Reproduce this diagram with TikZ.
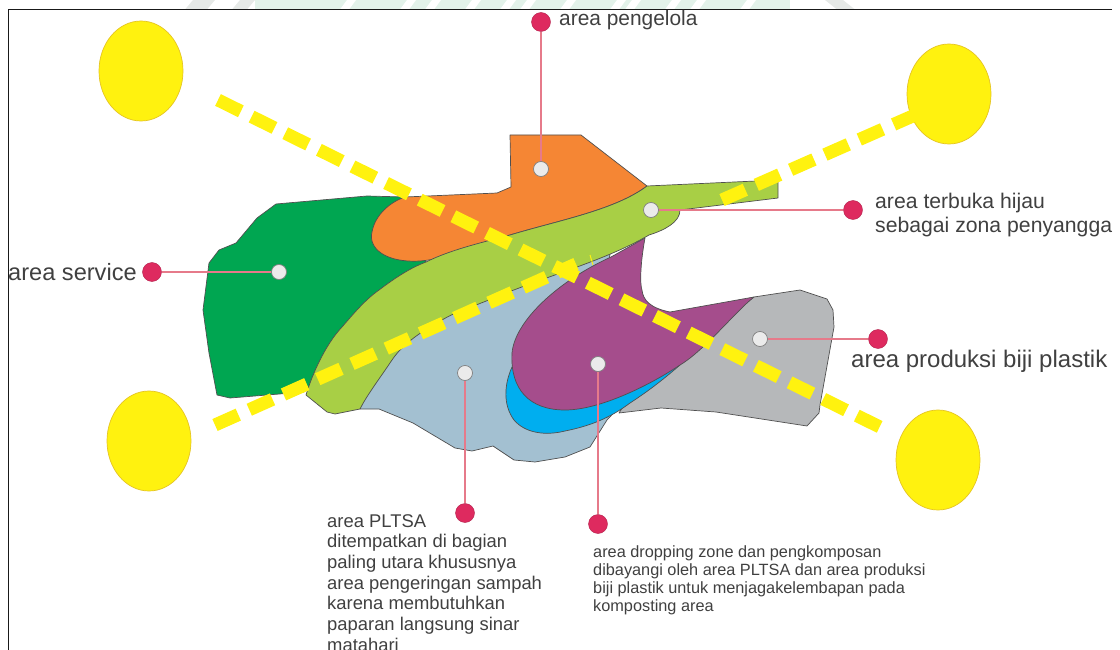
\documentclass[tikz,border=0pt]{standalone}
\usepackage{fontspec}
\setmainfont{Liberation Sans}
\usepackage{tikz}
\usetikzlibrary{shapes.geometric,positioning,calc}

\definecolor{zonegreen}{HTML}{00A651}
\definecolor{zoneorange}{HTML}{F58634}
\definecolor{zonelime}{HTML}{A8CF45}
\definecolor{zoneblue}{HTML}{A3C0D1}
\definecolor{zonecyan}{HTML}{00AEEF}
\definecolor{zonepurple}{HTML}{A54D8C}
\definecolor{zonegray}{HTML}{B6B8BA}
\definecolor{sunyellow}{HTML}{FFF20F}
\definecolor{dotred}{HTML}{DE2A5F}
\definecolor{leadred}{HTML}{E67A8A}
\definecolor{marktext}{HTML}{404040}
\definecolor{edgegray}{HTML}{505050}
\definecolor{wmgreen}{HTML}{E3F2EA}
\definecolor{wmgray}{HTML}{E6E9E7}

\tikzset{
  zone/.style={draw=edgegray, line width=0.7pt, line join=round},
  sunspot/.style={ellipse, draw=sunyellow!60!brown, fill=sunyellow, line width=0.7pt,
    minimum width=84pt, minimum height=100pt, inner sep=0pt},
  sightline/.style={draw=sunyellow, line width=13pt, dash pattern=on 25.5pt off 12pt},
  sitepin/.style={circle, draw=gray, fill=black!8, line width=0.7pt, minimum size=15pt, inner sep=0pt},
  sitedot/.style={circle, fill=dotred, draw=dotred!80!black, line width=0.4pt, minimum size=19pt, inner sep=0pt},
  leadline/.style={draw=leadred, line width=1.2pt},
  arealabel/.style={text=marktext, inner sep=0pt, anchor=west, align=left}
}

\begin{document}
\begin{tikzpicture}[x=1pt, y=-1pt]
  \useasboundingbox (0,0) rectangle (1120,650);
  % ---- faint strip above the frame ----
  \fill[wmgreen] (255,0) rectangle (790,9.5);
  \fill[wmgray] (185,9.5) -- (193,0) -- (215,0) -- (207,9.5) -- cycle;
  \fill[wmgray] (232,9.5) -- (240,0) -- (255,0) -- (247,9.5) -- cycle;
  \foreach \x in {340,400,425,465,500,520,560,610,625,665,690,740} {
    \fill[white] (\x,9.5) -- (\x+7,0) -- (\x+16,0) -- (\x+9,9.5) -- cycle;
  }
  \fill[wmgray] (825,0) -- (843,0) -- (855,9.5) -- (837,9.5) -- cycle;
  % ---- frame: top and left only ----
  \draw[black!90, line width=1pt] (1112,10) -- (8.5,10) -- (8.5,650);
  % ---- site zones, back to front ----
  \draw[zone, fill=zonegreen] (405,197) -- (367,196) -- (276,204) -- (257,218) -- (236,243)
    -- (219,250) -- (209,263) -- (203,310) -- (209,353) -- (217,395) -- (230,398)
    -- (304,392) -- (426,262) -- cycle;
  \draw[zone, fill=zoneorange] (510,135) -- (581,135) -- (647,186)
    .. controls (615,210) and (560,220) .. (510,235)
    .. controls (480,243) and (455,258) .. (420,261)
    .. controls (385,263) and (368,248) .. (372,232)
    .. controls (375,215) and (390,202) .. (405,197)
    -- (497,193) -- (511,187) -- cycle;
  \draw[zone, fill=zoneblue] (360,409) -- (379,409) -- (413,423) -- (455,448) -- (472,451)
    -- (493,446) -- (514,460) -- (535,462) -- (565,457) -- (590,447) -- (607,420)
    -- (640,385) -- (600,300) -- (611,250) -- (440,300) -- (380,340) -- cycle;
  \draw[zone, fill=zonegray] (754,297) -- (800,290) -- (827,299) -- (833,310) -- (834,327)
    -- (820,405) -- (819,413) -- (807,426) -- (716,412) -- (661,408) -- (619,413)
    -- (640,380) -- cycle;
  \draw[zone, fill=zonecyan] (512,367) .. controls (504,385) and (503,405) .. (514,420)
    .. controls (525,433) and (545,436) .. (565,431)
    .. controls (590,426) and (610,418) .. (630,403)
    .. controls (650,390) and (665,378) .. (680,365) -- cycle;
  \draw[zone, fill=zonepurple] (645,238) .. controls (640,265) and (640,285) .. (642,290)
    .. controls (643,300) and (650,308) .. (670,312)
    -- (754,297)
    .. controls (735,312) and (705,350) .. (680,365)
    .. controls (650,385) and (600,410) .. (565,410)
    .. controls (530,410) and (510,390) .. (512,353)
    .. controls (515,320) and (560,280) .. (611,257) -- cycle;
  \draw[zone, fill=zonelime] (647,186) -- (756,181) -- (778,181) -- (778,198) -- (680,210)
    .. controls (680,222) and (665,230) .. (649,235)
    .. controls (610,258) and (560,272) .. (506,293)
    .. controls (470,308) and (455,312) .. (442,320)
    .. controls (420,332) and (402,345) .. (392,360)
    .. controls (380,378) and (367,395) .. (360,409)
    -- (335,414) -- (327,412) -- (306,395)
    .. controls (312,375) and (325,345) .. (342,327)
    .. controls (355,312) and (365,300) .. (379,290)
    .. controls (395,278) and (410,268) .. (426,262)
    .. controls (450,250) and (480,243) .. (510,235)
    .. controls (560,220) and (615,210) .. (647,186) -- cycle;
  % ---- yellow spots and sight lines ----
  \node[sunspot] (sunNW) at (141,71) {};
  \node[sunspot] (sunNE) at (949,94) {};
  \node[sunspot] (sunSW) at (149,441) {};
  \node[sunspot] (sunSE) at (938,460) {};
  \coordinate (lineAstart) at (218,100);
  \coordinate (lineAend) at (890,432);
  \coordinate (lineBstart) at (215,425);
  \coordinate (lineBend) at (576,264);
  \coordinate (lineCstart) at (722,200);
  \coordinate (lineCend) at (915,115);
  \coordinate (spurA) at (590,255);
  \coordinate (spurB) at (593,265);
  \draw[sightline] (lineBstart) -- (lineBend);
  \draw[sightline] (lineCstart) -- (lineCend);
  \draw[sightline] (lineAstart) -- (lineAend);
  \draw[draw=sunyellow, line width=1pt] (spurA) -- (spurB);
  % ---- pins, dots and their lead lines ----
  \foreach \name/\px/\py/\dx/\dy in {Office/541/169/541/22, Buffer/651/210/853/210,
      Service/279/272/152/272, Plastic/760/339/878/339, Pltsa/465/373/465/513, Drop/598/364/598/524} {
    \node[sitepin] (pin\name) at (\px,\py) {};
    \node[sitedot] (dot\name) at (\dx,\dy) {};
    \draw[leadline] (pin\name) -- (dot\name);
  }
  % ---- labels ----
  \node[arealabel, font=\fontsize{20.9}{25}\selectfont] (markOffice) at (559,20) {area pengelola};
  \node[arealabel, font=\fontsize{23.6}{26}\selectfont] (markService) at (8,272) {area service};
  \node[arealabel, font=\fontsize{21.2}{24}\selectfont] (markBuffer) at (875,215) {area terbuka hijau\\sebagai zona penyangga};
  \node[arealabel, font=\fontsize{24}{28}\selectfont] (markPlastic) at (851,361) {area produksi biji plastik};
  \node[arealabel, anchor=north west, font=\fontsize{18.4}{20.7}\selectfont] (markPltsa) at (327,514)
    {area PLTSA\\ditempatkan di bagian\\paling utara khususnya\\area pengeringan sampah\\karena membutuhkan\\paparan langsung sinar\\matahari};
  \node[arealabel, anchor=north west, font=\fontsize{16.3}{18.3}\selectfont] (markDrop) at (593,545)
    {area dropping zone dan pengkomposan\\dibayangi oleh area PLTSA dan area produksi\\biji plastik untuk menjagakelembapan pada\\komposting area};
\end{tikzpicture}
\end{document}
